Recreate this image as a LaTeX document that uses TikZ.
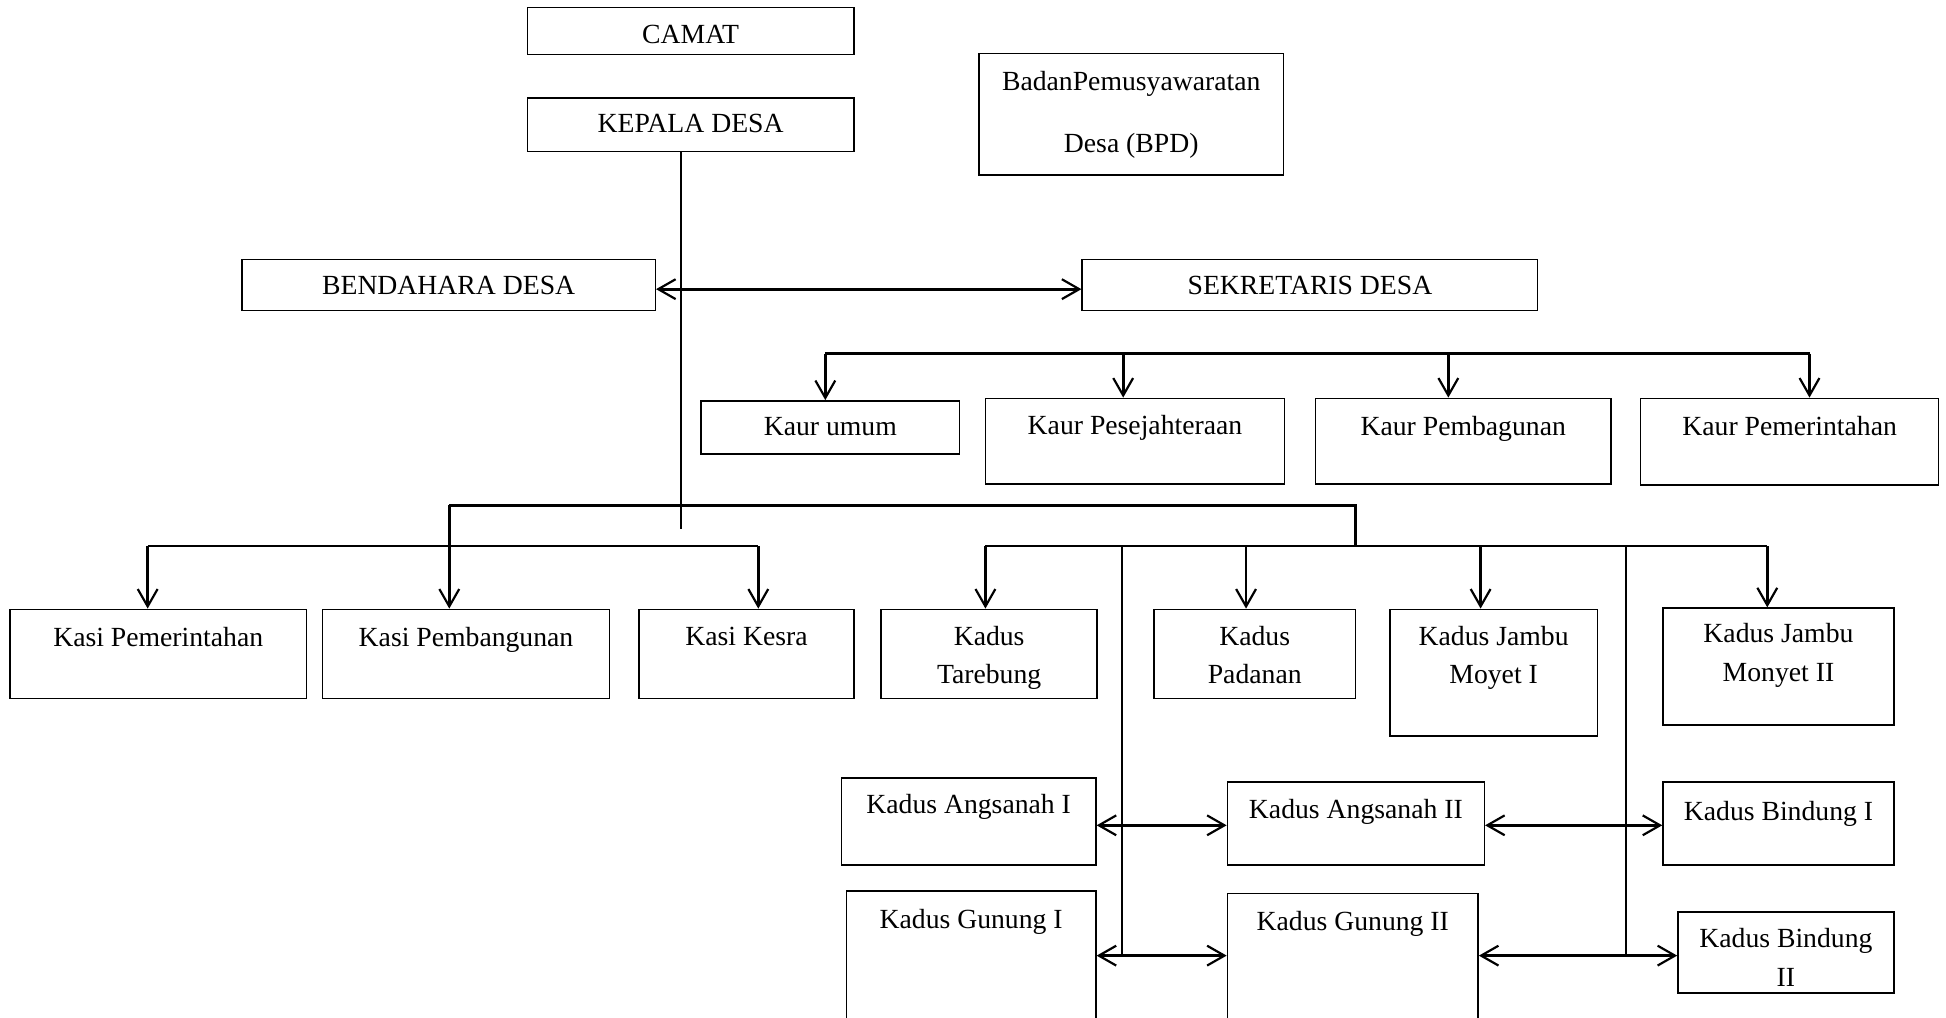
\documentclass[tikz,border=0pt]{standalone}
\usepackage{fontspec}
\setmainfont{Liberation Serif}
\usetikzlibrary{arrows.meta,fit}
\begin{document}
\begin{tikzpicture}[x=0.02cm,y=-0.02cm,
  box/.style={draw, line width=0.7pt, inner sep=0pt, rectangle},
  txt/.style={inner sep=0pt, align=center, anchor=north, font=\fontsize{12.7}{17.6}\selectfont},
  conn/.style={line width=1.3pt},
  barb/.tip={Straight Barb[length=0.28cm,width=0.32cm,line width=1pt]},
  arr/.style={conn, -barb},
  dbl/.style={conn, barb-barb},
  bus/.style={line width=0.85pt}]
\useasboundingbox (0,0) rectangle (1568,820);

% boxes
\node[box, fit={(425,6)(688,44)}] (camat) {};
\node[box, fit={(425,79)(688,122)}] (kd) {};
\node[box, fit={(789,43)(1034,141)}] (bpd) {};
\node[box, fit={(195,209)(528,250)}] (bend) {};
\node[box, fit={(872,209)(1239,250)}] (sek) {};
\node[box, fit={(565,323)(773,366)}] (ku) {};
\node[box, fit={(794,321)(1035,390)}] (kp) {};
\node[box, fit={(1060,321)(1298,390)}] (kpb) {};
\node[box, fit={(1322,321)(1562,391)}] (kpm) {};
\node[box, fit={(8,491)(247,563)}] (ks1) {};
\node[box, fit={(260,491)(491,563)}] (ks2) {};
\node[box, fit={(515,491)(688,563)}] (ks3) {};
\node[box, fit={(710,491)(884,563)}] (kd1) {};
\node[box, fit={(930,491)(1092,563)}] (kd2) {};
\node[box, fit={(1120,491)(1287,593)}] (kd3) {};
\node[box, fit={(1340,490)(1526,584)}] (kd4) {};
\node[box, fit={(678,627)(883,697)}] (ang1) {};
\node[box, fit={(989,630)(1196,697)}] (ang2) {};
\node[box, fit={(1340,630)(1526,697)}] (bin1) {};
\node[box, fit={(682,718)(883,832)}] (gun1) {};
\node[box, fit={(989,720)(1191,832)}] (gun2) {};
\node[box, fit={(1352,735)(1526,800)}] (bin2) {};

% texts
\node[txt] (tcamat) at (camat.center |- 0,20) {CAMAT};
\node[txt] (tkd) at (kd.center |- 0,92) {KEPALA DESA};
\node[txt, font=\fontsize{12.7}{28.5}\selectfont] (tbpd) at (bpd.center |- 0,57) {BadanPemusyawaratan\\Desa (BPD)};
\node[txt] (tbend) at (bend.center |- 0,222) {BENDAHARA DESA};
\node[txt] (tsek) at (sek.center |- 0,222) {SEKRETARIS DESA};
\node[txt] (tku) at (ku.center |- 0,336) {Kaur umum};
\node[txt] (tkp) at (kp.center |- 0,334) {Kaur Pesejahteraan};
\node[txt] (tkpb) at (kpb.center |- 0,335) {Kaur Pembagunan};
\node[txt] (tkpm) at (kpm.center |- 0,335) {Kaur Pemerintahan};
\node[txt] (tks1) at (ks1.center |- 0,505) {Kasi Pemerintahan};
\node[txt] (tks2) at (ks2.center |- 0,505) {Kasi Pembangunan};
\node[txt] (tks3) at (ks3.center |- 0,505) {Kasi Kesra};
\node[txt] (tkd1) at (kd1.center |- 0,504) {Kadus\\Tarebung};
\node[txt] (tkd2) at (kd2.center |- 0,504) {Kadus\\Padanan};
\node[txt] (tkd3) at (kd3.center |- 0,504) {Kadus Jambu\\Moyet I};
\node[txt] (tkd4) at (kd4.center |- 0,502) {Kadus Jambu\\Monyet II};
\node[txt] (tang1) at (ang1.center |- 0,640) {Kadus Angsanah I};
\node[txt] (tang2) at (ang2.center |- 0,644) {Kadus Angsanah II};
\node[txt] (tbin1) at (bin1.center |- 0,645) {Kadus Bindung I};
\node[txt] (tgun1) at (gun1.center |- 0,732) {Kadus Gunung I};
\node[txt] (tgun2) at (gun2.center |- 0,734) {Kadus Gunung II};
\node[txt] (tbin2) at (bin2.center |- 0,748) {Kadus Bindung\\II};

% helper coordinates
\coordinate (kdend) at (549,426);
\coordinate (row1) at (0,233);
\coordinate (a1) at (665,285);
\coordinate (a2) at (905,285);
\coordinate (a3) at (1167,285);
\coordinate (a4) at (1458,285);
\coordinate (h1l) at (362,407);
\coordinate (h1r) at (1092,407);
\coordinate (h2r) at (1092,440);
\coordinate (h2a) at (119,440);
\coordinate (h2b) at (611,440);
\coordinate (h3a) at (794,440);
\coordinate (h3b) at (1004,440);
\coordinate (h3c) at (1193,440);
\coordinate (h3d) at (1424,440);
\coordinate (v1) at (904,440);
\coordinate (v2) at (1310,440);
\coordinate (r1) at (0,665);
\coordinate (r2) at (0,770);

% Kepala desa line
\draw[bus] (kd.south -| kdend) -- (kdend);
% bendahara - sekretaris
\draw[dbl] (bend.east |- row1) -- (sek.west |- row1);
% kaur bar
\draw[conn] (a1) -- (a4);
\draw[arr] (a1) -- (a1 |- ku.north);
\draw[arr] (a2) -- (a2 |- kp.north);
\draw[arr] (a3) -- (a3 |- kpb.north);
\draw[arr] (a4) -- (a4 |- kpm.north);
% kasi / kadus bars
\draw[conn] (h1l) -- (h1r) -- (h2r);
\draw[arr] (h1l) -- (h1l |- ks2.north);
\draw[conn] (h2a) -- (h2b);
\draw[arr] (h2a) -- (h2a |- ks1.north);
\draw[arr] (h2b) -- (h2b |- ks3.north);
\draw[conn] (h3a) -- (h3d);
\draw[arr] (h3a) -- (h3a |- kd1.north);
\draw[arr] (h3b) -- (h3b |- kd2.north);
\draw[arr] (h3c) -- (h3c |- kd3.north);
\draw[arr] (h3d) -- (h3d |- kd4.north);
% vertical buses
\draw[bus] (v1) -- (v1 |- r2);
\draw[bus] (v2) -- (v2 |- r2);
% lower kadus double arrows
\draw[dbl] (ang1.east |- r1) -- (ang2.west |- r1);
\draw[dbl] (ang2.east |- r1) -- (bin1.west |- r1);
\draw[dbl] (gun1.east |- r2) -- (gun2.west |- r2);
\draw[dbl] (gun2.east |- r2) -- (bin2.west |- r2);
\end{tikzpicture}
\end{document}
